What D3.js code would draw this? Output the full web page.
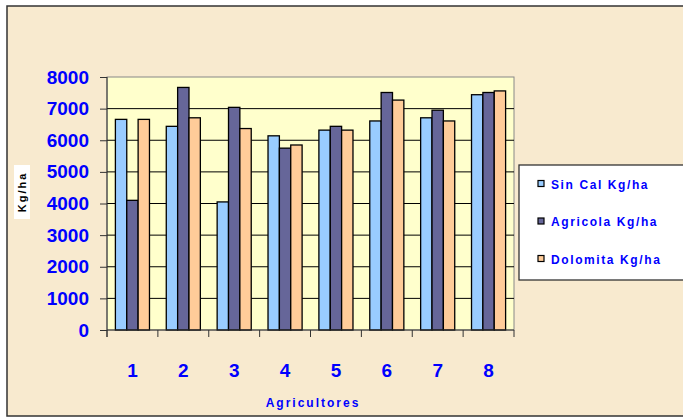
<!DOCTYPE html>
<html>
<head>
<meta charset="utf-8">
<script src="https://cdn.jsdelivr.net/npm/d3@7"></script>
<style>
  body { margin: 0; background: #fff; }
  svg { display: block; font-family: "Liberation Sans", Arial, sans-serif; }
</style>
</head>
<body>
<div id="chart"></div>
<script>
// data
var agricultores = ["1", "2", "3", "4", "5", "6", "7", "8"];
var seriesNames = ["Sin Cal Kg/ha", "Agricola Kg/ha", "Dolomita Kg/ha"];
var sinCal   = [6660, 6440, 4050, 6140, 6320, 6610, 6710, 7440];
var agricola = [4100, 7670, 7040, 5750, 6440, 7510, 6950, 7510];
var dolomita = [6660, 6710, 6370, 5850, 6320, 7270, 6610, 7560];
var yTicks = [0, 1000, 2000, 3000, 4000, 5000, 6000, 7000, 8000];
var colors = ["#99CCFF", "#666699", "#FFCC99"];

var W = 683, H = 418;
var margin = {top: 77, left: 107},
  width = 514 - 107,
  height = 330 - 77;

var svg = d3.select("#chart")
.append("svg")
  .attr("width", W)
  .attr("height", H);

// background + outer frame
svg.append("rect")
  .attr("x", 7).attr("y", 6)
  .attr("width", 690).attr("height", 410)
  .style("fill", "#F8EACF")
  .style("stroke", "#333")
  .style("stroke-width", 1.5);

var g = svg.append("g")
  .attr("transform", "translate(" + margin.left + "," + margin.top + ")");

var x0 = d3.scaleBand()
  .domain(agricultores)
  .range([0, width])
  .paddingInner(0.33)
  .paddingOuter(0.165);

var x1 = d3.scaleBand()
  .domain(d3.range(3))
  .range([0, x0.bandwidth()]);

var y = d3.scaleLinear()
  .domain([0, 8000])
  .range([height, 0]);

// plot area
g.append("rect")
  .attr("width", width).attr("height", height)
  .style("fill", "#FFFFCC")
  .style("stroke", "#888")
  .style("stroke-width", 1);

// gridlines
g.selectAll(".grid")
  .data(yTicks.slice(1, -1))
  .enter()
  .append("line")
    .attr("x1", 0).attr("x2", width)
    .attr("y1", d => y(d)).attr("y2", d => y(d))
    .style("stroke", "#000")
    .style("stroke-width", 1);

// bars
var table = agricultores.map(function(a, i) {
  return {name: a, values: [sinCal[i], agricola[i], dolomita[i]]};
});

var groups = g.selectAll(".grp")
  .data(table)
  .enter()
  .append("g")
    .attr("transform", d => "translate(" + x0(d.name) + ",0)");

groups.selectAll("rect")
  .data(d => d.values.map((v, k) => ({k: k, v: v})))
  .enter()
  .append("rect")
    .attr("x", d => x1(d.k))
    .attr("y", d => y(d.v))
    .attr("width", x1.bandwidth())
    .attr("height", d => y(0) - y(d.v))
    .style("fill", d => colors[d.k])
    .style("stroke", "#000")
    .style("stroke-width", 1.3);

// y axis
var yAxis = g.append("g")
  .call(d3.axisLeft(y).tickValues(yTicks).tickFormat(d3.format("d")).tickSize(7).tickPadding(11));
yAxis.select(".domain").attr("d", "M0,0V" + (height + 7)).style("stroke", "#333");
yAxis.selectAll(".tick line").style("stroke", "#333");
yAxis.selectAll("text")
  .style("font-size", "19px")
  .style("font-weight", "600")
  .style("fill", "#0000FF");

// x axis: ticks at group boundaries
var step = x0.step();
g.append("line")
  .attr("x1", 0).attr("x2", width)
  .attr("y1", height).attr("y2", height)
  .style("stroke", "#333");
g.selectAll(".xtick")
  .data(d3.range(agricultores.length + 1))
  .enter()
  .append("line")
    .attr("x1", d => d * step).attr("x2", d => d * step)
    .attr("y1", height).attr("y2", height + 7)
    .style("stroke", "#333");

g.selectAll(".xlab")
  .data(agricultores)
  .enter()
  .append("text")
    .attr("x", d => x0(d) + x0.bandwidth() / 2)
    .attr("y", height + 47)
    .attr("text-anchor", "middle")
    .style("font-size", "19px")
    .style("font-weight", "600")
    .style("fill", "#0000FF")
    .text(d => d);

// axis titles
svg.append("text")
  .attr("x", 313).attr("y", 407)
  .attr("text-anchor", "middle")
  .style("font-size", "12px")
  .style("font-weight", "bold")
  .style("letter-spacing", "2px")
  .style("fill", "#0000FF")
  .text("Agricultores");

svg.append("rect")
  .attr("x", 14).attr("y", 165)
  .attr("width", 16).attr("height", 54)
  .style("fill", "#fff");
svg.append("text")
  .attr("transform", "translate(26,192) rotate(-90)")
  .attr("text-anchor", "middle")
  .style("font-size", "11px")
  .style("font-weight", "bold")
  .style("letter-spacing", "2px")
  .style("fill", "#000")
  .text("Kg/ha");

// legend
var legend = svg.append("g");
legend.append("rect")
  .attr("x", 519).attr("y", 165)
  .attr("width", 180).attr("height", 115)
  .style("fill", "#fff")
  .style("stroke", "#333")
  .style("stroke-width", 1.3);

var item = legend.selectAll(".item")
  .data(seriesNames)
  .enter()
  .append("g")
    .attr("transform", (d, i) => "translate(538," + (184 + i * 37.5) + ")");
item.append("rect")
  .attr("x", 0).attr("y", -3.5)
  .attr("width", 6).attr("height", 6)
  .style("fill", (d, i) => colors[i])
  .style("stroke", "#000")
  .style("stroke-width", 1.2);
item.append("text")
  .attr("x", 13).attr("y", 4.5)
  .style("font-size", "12px")
  .style("font-weight", "bold")
  .style("letter-spacing", "1.6px")
  .style("fill", "#0000FF")
  .text(d => d);
</script>
</body>
</html>
